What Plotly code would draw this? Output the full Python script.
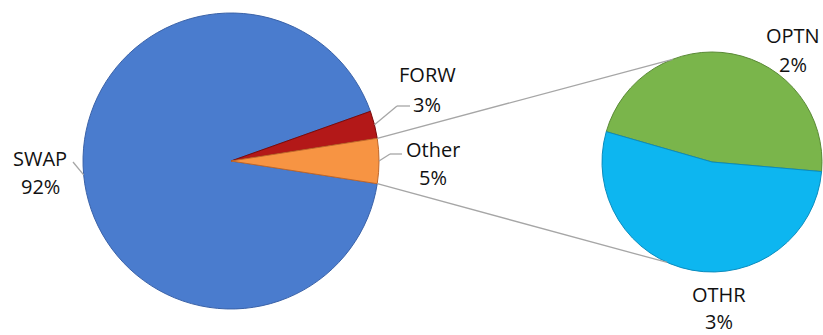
import numpy as np
import plotly.graph_objects as go

# ---- data ----
main_labels = ["SWAP", "FORW", "Other"]
main_values = [92.1, 3.0, 4.9]
sub_labels = ["OPTN", "OTHR"]
sub_values = [2.3, 2.6]

main_colors = ["#4A7CCE", "#B31818", "#F79443"]
main_edges = ["#3A62A8", "#7A0A0A", "#C0672A"]
sub_colors = ["#7AB54B", "#0DB6F0"]
sub_edges = ["#5A8A36", "#0A8CBE"]

# ---- layout geometry (pixels) ----
W, H = 823, 335
MC = (231.0, 161.0); MR = 148.0      # main pie centre / radius
SC = (712.0, 162.0); SR = 110.0      # secondary pie centre / radius


def px(x, y):
    return x / W, 1 - y / H


def domain(c, r):
    return dict(x=[(c[0] - r) / W, (c[0] + r) / W],
                y=[1 - (c[1] + r) / H, 1 - (c[1] - r) / H])


# angles: "Other" slice centred on 3 o'clock
tot = sum(main_values)
other_span = main_values[2] / tot * 360
other_lo, other_hi = -other_span / 2, other_span / 2     # math angles (deg)
main_rot = 90 - other_lo                                  # clockwise from 12
sub_start_math = 164.0
sub_rot = 90 - sub_start_math

fig = go.Figure()
fig.add_trace(go.Pie(
    labels=main_labels, values=main_values, sort=False, direction="clockwise",
    rotation=main_rot, domain=domain(MC, MR), textinfo="none", hoverinfo="label+percent",
    marker=dict(colors=main_colors, line=dict(color=main_edges, width=1)),
    showlegend=False))
fig.add_trace(go.Pie(
    labels=sub_labels, values=sub_values, sort=False, direction="clockwise",
    rotation=sub_rot, domain=domain(SC, SR), textinfo="none", hoverinfo="label+value",
    marker=dict(colors=sub_colors, line=dict(color=sub_edges, width=1)),
    showlegend=False))


def on_circle(c, r, ang):
    a = np.deg2rad(ang)
    return c[0] + r * np.cos(a), c[1] - r * np.sin(a)


shapes = []
LINE = dict(color="#A6A6A6", width=1.3)


def seg(p, q):
    x0, y0 = px(*p); x1, y1 = px(*q)
    shapes.append(dict(type="line", xref="paper", yref="paper",
                       x0=x0, y0=y0, x1=x1, y1=y1, line=LINE))


# connector lines between the pies
seg(on_circle(MC, MR, other_hi), on_circle(SC, SR, 111))
seg(on_circle(MC, MR, other_lo), on_circle(SC, SR, -114))

# slice mid angles
forw_span = main_values[1] / tot * 360
mid_other = 0.0
mid_forw = other_hi + forw_span / 2
mid_swap = (other_hi + forw_span + 360 + other_lo) / 2

# leader lines
seg(on_circle(MC, MR, mid_swap), (73, 162))
p = on_circle(MC, MR, mid_forw); seg(p, (397, 106)); seg((397, 106), (410, 106))
p = on_circle(MC, MR, mid_other); seg(p, (390, 154)); seg((390, 154), (402, 154))

# labels (pixel centres of name / percent lines)
label_pos = {
    "SWAP": ((40, 157.5), (40, 185.5)),
    "FORW": ((427, 73.5), (427, 103.5)),
    "Other": ((433, 149), (433, 176.5)),
    "OPTN": ((793, 34.5), (793, 63.5)),
    "OTHR": ((719, 293.5), (719, 321)),
}
annotations = []
FONT = dict(family="Open Sans", size=20, color="#111111")
for lab, val in list(zip(main_labels, main_values)) + list(zip(sub_labels, sub_values)):
    (nx, ny), (vx, vy) = label_pos[lab]
    for txt, (x, y) in ((lab, (nx, ny)), (f"{val:.0f}%", (vx, vy))):
        xx, yy = px(x, y)
        annotations.append(dict(text=txt, x=xx, y=yy, xref="paper", yref="paper",
                                xanchor="center", yanchor="middle", showarrow=False,
                                height=22, valign="middle", font=FONT))

fig.update_layout(width=W, height=H, margin=dict(l=0, r=0, t=0, b=0),
                  paper_bgcolor="white", plot_bgcolor="white",
                  shapes=shapes, annotations=annotations)
fig.write_html("out.html")
